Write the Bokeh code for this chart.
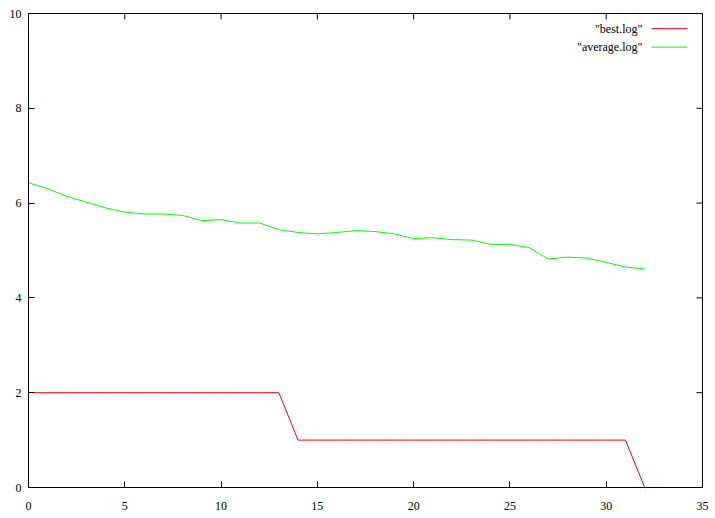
import math
from bokeh.plotting import figure
from bokeh.models import LinearAxis, Range1d, FixedTicker, Label
from bokeh.embed import file_html
from bokeh.resources import INLINE

# ---- data ----
generations = list(range(33))
best = [2]*14 + [1]*18 + [0]
average = [6.43, 6.30, 6.14, 6.02, 5.90, 5.81, 5.77, 5.77, 5.74, 5.63,
           5.65, 5.58, 5.58, 5.44, 5.38, 5.35, 5.38, 5.42, 5.40, 5.35,
           5.25, 5.27, 5.23, 5.22, 5.13, 5.13, 5.06, 4.82, 4.86, 4.84,
           4.75, 4.65, 4.61]
x_ticks = [0, 5, 10, 15, 20, 25, 30, 35]
y_ticks = [0, 2, 4, 6, 8, 10]
series_labels = ['"best.log"', '"average.log"']

FONT = "Liberation Serif"
FS = "12px"

p = figure(width=708, height=512, output_backend="svg", toolbar_location=None,
           x_range=Range1d(0, 35), y_range=Range1d(0, 10),
           min_border_left=28, min_border_right=6, min_border_top=13, min_border_bottom=25,
           x_axis_location=None, y_axis_location=None)
p.xgrid.visible = False
p.ygrid.visible = False
p.outline_line_color = "black"
p.outline_line_width = 1
p.background_fill_color = "white"
p.border_fill_color = "white"

def style_axis(ax, ticks, standoff):
    ax.ticker = FixedTicker(ticks=ticks)
    ax.major_tick_in = 6
    ax.major_tick_out = 0
    ax.minor_tick_line_color = None
    ax.major_tick_line_color = "black"
    ax.axis_line_color = "black"
    ax.major_label_text_font = FONT
    ax.major_label_text_font_size = FS
    ax.major_label_text_color = "black"
    ax.major_label_standoff = standoff

xb = LinearAxis(); style_axis(xb, x_ticks, 14); p.add_layout(xb, "below")
yl = LinearAxis(); style_axis(yl, y_ticks, 7); p.add_layout(yl, "left")

# mirrored inward ticks on top and right edges
p.ray(x=x_ticks, y=[10]*len(x_ticks), length=6, length_units="screen",
      angle=-math.pi/2, line_color="black", line_width=1)
p.ray(x=[35]*len(y_ticks), y=y_ticks, length=6, length_units="screen",
      angle=math.pi, line_color="black", line_width=1)

p.line(generations, best, line_color="#ff0000", line_width=1)
p.line(generations, average, line_color="#00ff00", line_width=1)

# ---- key (label left, sample line right, as in gnuplot) ----
key_text_x = 31.88
key_line_x0, key_line_x1 = 32.35, 34.22
key_rows_y = [9.68, 9.29]
for lbl, yy, col in zip(series_labels, key_rows_y, ["#ff0000", "#00ff00"]):
    p.add_layout(Label(x=key_text_x, y=yy, text=lbl, text_align="right",
                       text_baseline="middle", text_font=FONT, text_font_size=FS,
                       text_color="black"))
    p.segment(x0=[key_line_x0], y0=[yy], x1=[key_line_x1], y1=[yy],
              line_color=col, line_width=1)

open("out.html", "w").write(file_html(p, INLINE))
